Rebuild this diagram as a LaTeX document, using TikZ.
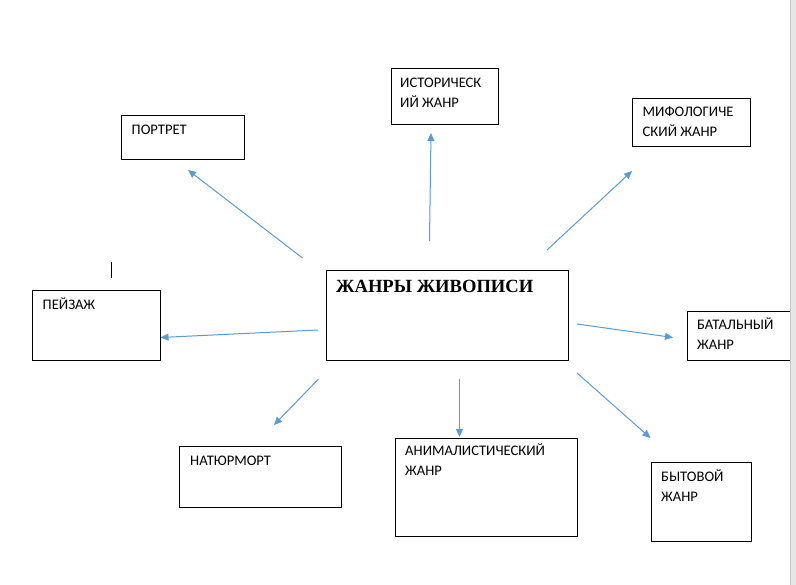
\documentclass[tikz,border=0pt]{standalone}
\usepackage{fontspec}
\setmainfont{Carlito}
\newfontfamily\titlefont{Liberation Serif}
\usetikzlibrary{arrows.meta}
\definecolor{arrowblue}{HTML}{5B9BD5}
\definecolor{stripgrey}{HTML}{E6E6E6}
\definecolor{stripedge}{HTML}{C6C6C6}
\newcommand\mystrut{\rule{0pt}{13pt}}
\tikzset{
  box/.style={draw=black, line width=1.2pt, rectangle, inner sep=0pt, anchor=north west},
  lbl/.style={anchor=north west, inner sep=0pt, align=left, font=\fontsize{14.6}{20}\selectfont, text=black},
  conn/.style={draw=arrowblue, line width=1pt, -{Triangle[length=8pt,width=7pt]}}
}
\begin{document}
\begin{tikzpicture}[x=1pt,y=-1pt]
\useasboundingbox (0,0) rectangle (796,585);
\fill[white] (0,0) rectangle (796,585);

% boxes
\node[box, minimum width=242pt, minimum height=90pt] (center) at (326,270) {};
\node[box, minimum width=123pt, minimum height=44pt] (portret) at (121,115) {};
\node[box, minimum width=107pt, minimum height=56pt] (istor) at (391,68) {};
\node[box, minimum width=118pt, minimum height=48pt] (mif) at (632,98) {};
\node[box, minimum width=128pt, minimum height=70pt] (peyzazh) at (32,290) {};
\node[box, minimum width=115pt, minimum height=49pt] (batal) at (687,311) {};
\node[box, minimum width=162pt, minimum height=61pt] (natyur) at (179,446) {};
\node[box, minimum width=182pt, minimum height=98pt] (animal) at (395,438) {};
\node[box, minimum width=100pt, minimum height=79pt] (byt) at (651,462) {};

% texts
\node[anchor=base west, inner sep=0pt, font=\titlefont\bfseries\fontsize{18.6}{20}\selectfont] (centerT) at (336,292.5) {ЖАНРЫ ЖИВОПИСИ};
\node[lbl] (portretT) at (131.5,121.5) {\mystrut ПОРТРЕТ};
\node[lbl] (istorT) at (400,74) {\mystrut ИСТОРИЧЕСК\\ИЙ ЖАНР};
\node[lbl] (mifT) at (642.5,103) {\mystrut МИФОЛОГИЧЕ\\СКИЙ ЖАНР};
\node[lbl] (peyzazhT) at (42.5,296) {\mystrut ПЕЙЗАЖ};
\node[lbl] (batalT) at (697,316) {\mystrut БАТАЛЬНЫЙ\\ЖАНР};
\node[lbl] (natyurT) at (190,452.5) {\mystrut НАТЮРМОРТ};
\node[lbl] (animalT) at (405,442.5) {\mystrut АНИМАЛИСТИЧЕСКИЙ\\ЖАНР};
\node[lbl] (bytT) at (661,468.5) {\mystrut БЫТОВОЙ\\ЖАНР};

% arrow coordinates
\coordinate (s1) at (302.5,258);  \coordinate (e1) at (188,170);
\coordinate (s2) at (429.5,241);  \coordinate (e2) at (431,133);
\coordinate (s3) at (547,250);    \coordinate (e3) at (632,171);
\coordinate (s4) at (318,330);    \coordinate (e4) at (160.5,337.5);
\coordinate (s5) at (577,324);    \coordinate (e5) at (673,337.5);
\coordinate (s6) at (318.5,379);  \coordinate (e6) at (274,425);
\coordinate (s7) at (459.5,379);  \coordinate (e7) at (459.5,437);
\coordinate (s8) at (577,373);    \coordinate (e8) at (650.5,438);

\draw[conn] (s1) -- (e1);
\draw[conn] (s2) -- (e2);
\draw[conn] (s3) -- (e3);
\draw[conn] (s4) -- (e4);
\draw[conn] (s5) -- (e5);
\draw[conn] (s6) -- (e6);
\draw[conn] (s7) -- (e7);
\draw[conn] (s8) -- (e8);

% text cursor mark
\coordinate (cur1) at (111,262.5);
\coordinate (cur2) at (111,278);
\draw[black, line width=1pt] (cur1) -- (cur2);

% grey page edge strip
\fill[stripgrey] (790,0) rectangle (796,585);
\draw[stripedge, line width=1.2pt] (790.6,0) -- (790.6,585);
\end{tikzpicture}
\end{document}
